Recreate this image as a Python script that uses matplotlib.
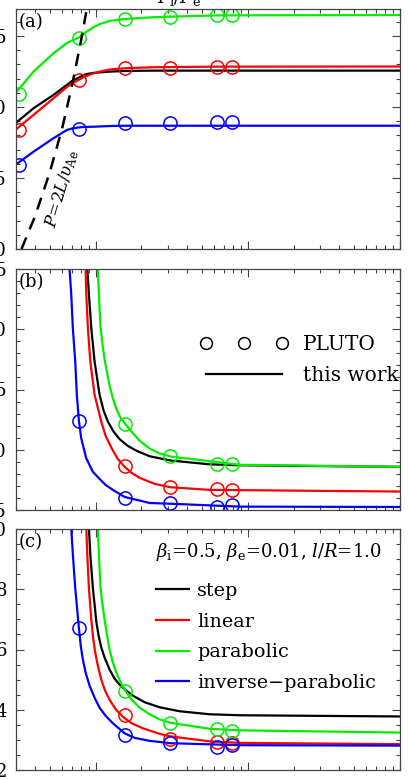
import matplotlib
matplotlib.use('Agg')
import matplotlib.pyplot as plt
from matplotlib.ticker import MultipleLocator, LogLocator, NullFormatter, FormatStrFormatter
from matplotlib.lines import Line2D

plt.rcParams['font.family'] = ['DejaVu Serif']
plt.rcParams['mathtext.fontset'] = 'dejavuserif'

# colours of the four profiles
c_step = 'black'
c_lin = '#ff0000'
c_par = '#00ee00'
c_inv = '#0000ff'

# ---- panel (a) ----
xa = [0.297, 0.391, 0.529, 0.647, 0.699, 0.773, 0.834, 0.886, 0.97, 1.074, 1.236, 1.568, 2.41, 3.1, 6.25, 100]
a_step = [1.885, 1.991, 2.085, 2.155, 2.183, 2.206, 2.225, 2.233, 2.240, 2.244, 2.249, 2.254, 2.256, 2.256, 2.256, 2.256]
a_lin = [1.838, 1.944, 2.061, 2.140, 2.167, 2.190, 2.210, 2.222, 2.237, 2.250, 2.264, 2.273, 2.280, 2.281, 2.284, 2.285]
a_par = [2.096, 2.249, 2.378, 2.450, 2.468, 2.488, 2.515, 2.535, 2.562, 2.585, 2.606, 2.620, 2.632, 2.636, 2.645, 2.648]
a_inv = [1.592, 1.685, 1.780, 1.838, 1.848, 1.856, 1.859, 1.860, 1.861, 1.863, 1.866, 1.868, 1.868, 1.868, 1.868, 1.868]

xa_pluto = [0.313, 0.773, 1.552, 3.1, 6.25, 7.85]
a_lin_pluto = [1.838, 2.190, 2.273, 2.275, 2.282, 2.282]
a_par_pluto = [2.092, 2.488, 2.620, 2.634, 2.648, 2.648]
a_inv_pluto = [1.592, 1.845, 1.885, 1.889, 1.891, 1.891]

x_dash = [0.326, 0.40, 0.50, 0.60, 0.70, 0.80, 0.90]
y_dash = [1.00, 1.23, 1.54, 1.84, 2.15, 2.46, 2.76]

# ---- panel (b) ----
xb_step = [0.875, 0.882, 0.904, 0.937, 0.985, 1.062, 1.129, 1.205, 1.314, 1.439, 1.624, 1.853,
           2.266, 3.1, 5.62, 8.87, 100]
b_step = [3.60, 3.51, 3.289, 3.011, 2.733, 2.456, 2.325, 2.233, 2.150, 2.088, 2.033, 1.992,
          1.946, 1.911, 1.879, 1.871, 1.858]
xb_lin = [0.852, 0.859, 0.869, 0.890, 0.923, 0.985, 1.090, 1.163, 1.274, 1.396, 1.552, 1.725,
          1.947, 2.443, 3.1, 5.62, 100]
b_lin = [3.60, 3.51, 3.289, 3.011, 2.733, 2.456, 2.233, 2.117, 2.013, 1.925, 1.858, 1.808,
         1.767, 1.717, 1.689, 1.667, 1.653]
xb_par = [1.028, 1.035, 1.051, 1.079, 1.112, 1.146, 1.190, 1.236, 1.294, 1.375, 1.460, 1.568,
          1.725, 1.947, 2.266, 2.63, 3.1, 8.87, 100]
b_par = [3.60, 3.51, 3.289, 3.011, 2.867, 2.75, 2.64, 2.533, 2.433, 2.333, 2.267, 2.214,
         2.150, 2.075, 2.010, 1.970, 1.944, 1.875, 1.858]
xb_inv = [0.668, 0.674, 0.692, 0.709, 0.735, 0.753, 0.777, 0.805, 0.869, 0.96, 1.062, 1.163,
          1.30, 1.552, 2.27, 3.1, 8.87, 100]
b_inv = [3.60, 3.508, 3.29, 3.008, 2.733, 2.458, 2.242, 2.094, 1.928, 1.817, 1.758, 1.708,
         1.667, 1.608, 1.558, 1.552, 1.528, 1.525]

xb_pluto = [1.552, 3.1, 6.25, 7.85]
b_lin_pluto = [1.867, 1.689, 1.675, 1.667]
b_par_pluto = [2.214, 1.944, 1.883, 1.883]
xb_inv_pluto = [0.777, 1.552, 3.1, 6.25, 7.85]
b_inv_pluto = [2.242, 1.597, 1.561, 1.528, 1.542]

# ---- panel (c) ----
xc_step = [0.898, 0.904, 0.923, 0.960, 1.011, 1.046, 1.090, 1.146, 1.236, 1.333, 1.439, 1.576,
           1.759, 2.10, 2.63, 3.57, 5.62, 8.87, 100]
c_step_y = [10.3, 10.04, 9.16, 8.04, 6.93, 6.467, 6.067, 5.733, 5.333, 5.033, 4.833, 4.65,
            4.467, 4.25, 4.083, 3.95, 3.85, 3.817, 3.777]
xc_lin = [0.864, 0.869, 0.882, 0.904, 0.937, 0.963, 0.992, 1.031, 1.090, 1.155, 1.236, 1.354,
          1.512, 1.725, 2.047, 2.63, 3.1, 5.62, 8.87, 100]
c_lin_y = [10.3, 10.04, 9.16, 8.04, 7.0, 6.4, 5.933, 5.5, 5.0, 4.633, 4.333, 4.017,
           3.767, 3.55, 3.383, 3.2, 3.117, 2.95, 2.9, 2.857]
xc_par = [1.028, 1.035, 1.051, 1.079, 1.103, 1.146, 1.190, 1.236, 1.294, 1.368, 1.460, 1.568,
          1.725, 1.947, 2.266, 2.63, 3.1, 5.62, 8.87, 100]
c_par_y = [10.3, 10.04, 9.16, 8.04, 7.6, 7.0, 6.467, 6.0, 5.6, 5.233, 4.917, 4.633,
           4.333, 4.067, 3.85, 3.683, 3.567, 3.367, 3.317, 3.243]
xc_inv = [0.686, 0.692, 0.709, 0.735, 0.777, 0.800, 0.825, 0.860, 0.913, 0.985, 1.062, 1.163,
          1.30, 1.552, 1.806, 2.266, 3.1, 8.87, 100]
c_inv_y = [10.3, 10.04, 9.16, 8.04, 6.71, 6.1, 5.667, 5.233, 4.8, 4.4, 4.067, 3.8,
           3.55, 3.217, 3.067, 2.967, 2.89, 2.823, 2.81]

xc_pluto = [1.552, 3.1, 6.25, 7.85]
c_lin_pluto = [3.81, 3.03, 2.94, 2.89]
c_par_pluto = [4.61, 3.56, 3.36, 3.31]
xc_inv_pluto = [0.777, 1.552, 3.1, 6.25, 7.85]
c_inv_pluto = [6.71, 3.17, 2.89, 2.76, 2.83]

labels = ['step', 'linear', 'parabolic', 'inverse\u2212parabolic']

fig = plt.figure(figsize=(4.15, 7.8), dpi=100)
W, H = 415.0, 780.0
def box(top, bottom):
    return [16 / W, 1 - bottom / H, 384 / W, (bottom - top) / H]

axa = fig.add_axes(box(9, 249))
axb = fig.add_axes(box(269, 510))
axc = fig.add_axes(box(529, 770))

lw = 1.6
ms = 9.5
mew = 1.1

def style(ax, ylim, major, minor):
    ax.set_xscale('log')
    ax.set_xlim(0.3, 100)
    ax.set_ylim(*ylim)
    ax.xaxis.set_major_locator(LogLocator(base=10))
    ax.xaxis.set_minor_locator(LogLocator(base=10, subs=range(2, 10)))
    ax.xaxis.set_minor_formatter(NullFormatter())
    ax.yaxis.set_major_locator(MultipleLocator(major))
    ax.yaxis.set_minor_locator(MultipleLocator(minor))
    ax.tick_params(which='both', direction='in', top=True, right=True,
                   labelbottom=False, labelsize=13, pad=6.5, color='#444444')
    ax.tick_params(which='major', length=6, width=0.8)
    ax.tick_params(which='minor', length=3, width=0.8)
    for s in ax.spines.values():
        s.set_linewidth(0.9)
        s.set_color('#444444')

# (a)
axa.plot(xa, a_step, color=c_step, lw=lw)
axa.plot(xa, a_lin, color=c_lin, lw=lw)
axa.plot(xa, a_par, color=c_par, lw=lw)
axa.plot(xa, a_inv, color=c_inv, lw=lw)
axa.plot(xa_pluto, a_lin_pluto, 'o', mfc='none', mec=c_lin, ms=ms, mew=mew)
axa.plot(xa_pluto, a_par_pluto, 'o', mfc='none', mec=c_par, ms=ms, mew=mew)
axa.plot(xa_pluto, a_inv_pluto, 'o', mfc='none', mec=c_inv, ms=ms, mew=mew)
axa.plot(x_dash, y_dash, color='black', lw=1.8, dashes=(5, 3.5))
style(axa, (1.0, 2.69), 0.5, 0.1)
axa.yaxis.set_major_formatter(FormatStrFormatter('%.1f'))
axa.text(0.008, 0.985, '(a)', transform=axa.transAxes, ha='left', va='top', fontsize=13)
axa.text(0.12, 0.25, r'$P\!=\!2L/\upsilon_{\rm Ae}$', transform=axa.transAxes,
         rotation=74, ha='center', va='center', fontsize=12)
fig.text(157 / W, 1 - 3 / H, r'$P_{\rm i}/P_{\rm e}$', ha='left', va='baseline',
         fontsize=13)

# (b)
axb.plot(xb_step, b_step, color=c_step, lw=lw)
axb.plot(xb_lin, b_lin, color=c_lin, lw=lw)
axb.plot(xb_par, b_par, color=c_par, lw=lw)
axb.plot(xb_inv, b_inv, color=c_inv, lw=lw)
axb.plot(xb_pluto, b_lin_pluto, 'o', mfc='none', mec=c_lin, ms=ms, mew=mew)
axb.plot(xb_pluto, b_par_pluto, 'o', mfc='none', mec=c_par, ms=ms, mew=mew)
axb.plot(xb_inv_pluto, b_inv_pluto, 'o', mfc='none', mec=c_inv, ms=ms, mew=mew)
style(axb, (1.5, 3.5), 0.5, 0.1)
axb.yaxis.set_major_formatter(FormatStrFormatter('%.1f'))
axb.text(0.008, 0.985, '(b)', transform=axb.transAxes, ha='left', va='top', fontsize=13)
h_pluto = Line2D([], [], ls='none', marker='o', mfc='none', mec='black', ms=8.5, mew=1.1)
h_work = Line2D([], [], color='black', lw=1.6)
axb.legend([h_pluto, h_work], ['PLUTO', 'this work'], loc='upper left',
           bbox_to_anchor=(0.478, 0.725), frameon=False, numpoints=3, fontsize=14.5,
           handlelength=4.4, handletextpad=0.75, labelspacing=0.58,
           borderpad=0, borderaxespad=0)

# (c)
axc.plot(xc_step, c_step_y, color=c_step, lw=lw)
axc.plot(xc_lin, c_lin_y, color=c_lin, lw=lw)
axc.plot(xc_par, c_par_y, color=c_par, lw=lw)
axc.plot(xc_inv, c_inv_y, color=c_inv, lw=lw)
axc.plot(xc_pluto, c_lin_pluto, 'o', mfc='none', mec=c_lin, ms=ms, mew=mew)
axc.plot(xc_pluto, c_par_pluto, 'o', mfc='none', mec=c_par, ms=ms, mew=mew)
axc.plot(xc_inv_pluto, c_inv_pluto, 'o', mfc='none', mec=c_inv, ms=ms, mew=mew)
style(axc, (2, 10), 2, 0.5)
axc.yaxis.set_major_formatter(FormatStrFormatter('%d'))
axc.text(0.008, 0.985, '(c)', transform=axc.transAxes, ha='left', va='top', fontsize=13)
axc.text(0.365, 0.905, r'$\beta_{\rm i}$=0.5, $\beta_{\rm e}$=0.01, $l/R$=1.0',
         transform=axc.transAxes, ha='left', va='center', fontsize=13)
handles = [Line2D([], [], color=c, lw=lw) for c in (c_step, c_lin, c_par, c_inv)]
axc.legend(handles, labels, loc='upper left', bbox_to_anchor=(0.365, 0.78),
           frameon=False, fontsize=13.8, handlelength=1.7, handletextpad=0.45,
           labelspacing=0.66, borderpad=0, borderaxespad=0)

fig.savefig('out.png', dpi=100)
